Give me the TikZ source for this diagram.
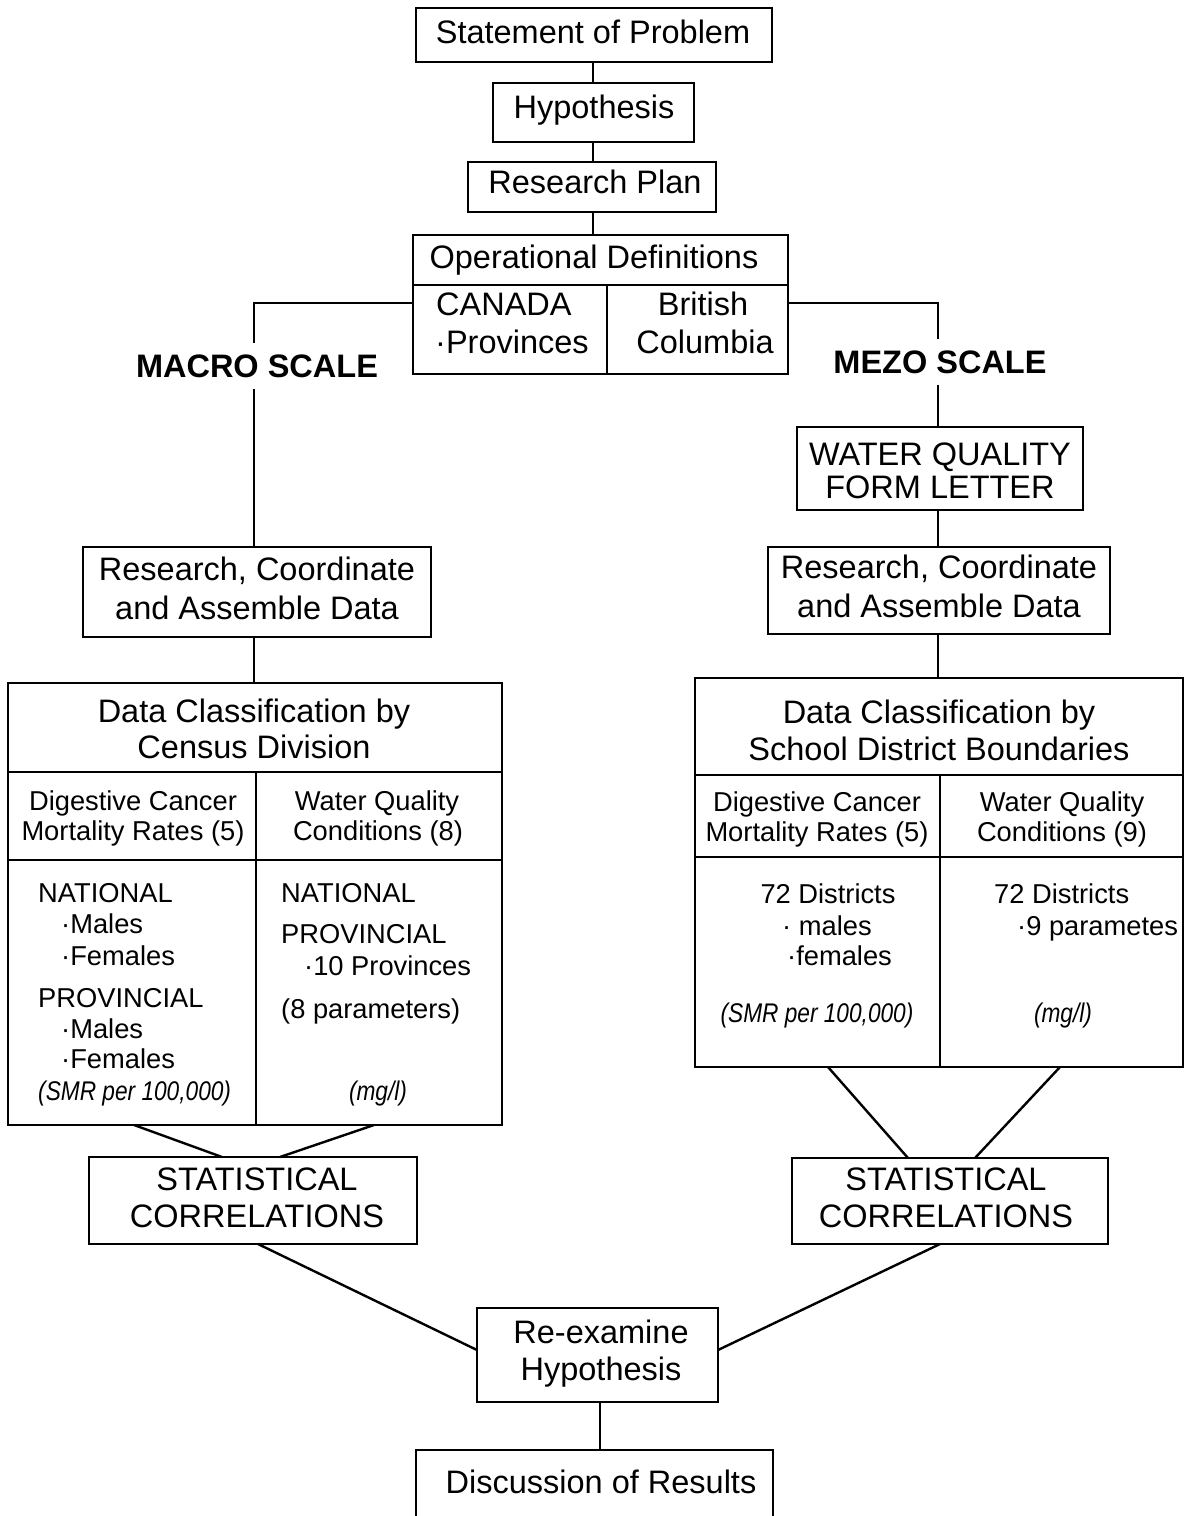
\documentclass[tikz,border=0pt]{standalone}
\usepackage{fontspec}
\setmainfont{Liberation Sans}
\usepackage{graphicx}
\begin{document}
\begin{tikzpicture}[x=1pt,y=-1pt,
  box/.style={draw, line width=2.8pt, inner sep=0pt, outer sep=0pt, rectangle},
  divider/.style={line width=2.2pt},
  conn/.style={line width=2.4pt},
  txt/.style={font=\fontsize{32.5}{38}\selectfont, inner sep=0pt, anchor=base},
  celltxt/.style={font=\fontsize{27.3}{32}\selectfont, inner sep=0pt, anchor=base},
  celltxtw/.style={celltxt, anchor=base west},
  scalelbl/.style={font=\fontsize{32.5}{38}\selectfont\bfseries, inner sep=0pt, inner ysep=11pt, anchor=base},
  note/.style={font=\fontsize{27}{32}\selectfont, inner sep=0pt, anchor=base}
]
\useasboundingbox (0,0) rectangle (1188,1516);
\clip (0,0) rectangle (1188,1516);
\fill[white] (0,0) rectangle (1188,1516);

% ---------- boxes ----------
\node[box, minimum width=356pt, minimum height=54pt] (stmt) at (594,35) {};
\node[box, minimum width=201pt, minimum height=59pt] (hyp) at (593.5,112.5) {};
\node[box, minimum width=248pt, minimum height=50pt] (plan) at (592,187) {};
\node[box, minimum width=375pt, minimum height=139pt] (opdef) at (600.5,304.5) {};
\node[box, minimum width=348pt, minimum height=90pt] (resL) at (257,592) {};
\node[box, minimum width=286pt, minimum height=83pt] (wq) at (940,468.5) {};
\node[box, minimum width=342pt, minimum height=87pt] (resR) at (939,590.5) {};
\node[box, minimum width=494pt, minimum height=442pt] (dcL) at (255,904) {};
\node[box, minimum width=488pt, minimum height=389pt] (dcR) at (939,872.5) {};
\node[box, minimum width=328pt, minimum height=87pt] (statL) at (253,1200.5) {};
\node[box, minimum width=316pt, minimum height=86pt] (statR) at (950,1201) {};
\node[box, minimum width=241pt, minimum height=94pt] (reex) at (597.5,1355) {};
\node[box, minimum width=357pt, minimum height=90pt] (disc) at (594.5,1495) {};

% ---------- inner dividers ----------
\coordinate (odY) at (0,285);
\coordinate (odX) at (607,0);
\draw[divider] (opdef.west |- odY) -- (opdef.east |- odY);
\draw[divider] (odX |- odY) -- (odX |- opdef.south);

\coordinate (dlY1) at (0,772);
\coordinate (dlY2) at (0,860);
\coordinate (dlX) at (256,0);
\draw[divider] (dcL.west |- dlY1) -- (dcL.east |- dlY1);
\draw[divider] (dcL.west |- dlY2) -- (dcL.east |- dlY2);
\draw[divider] (dlX |- dlY1) -- (dlX |- dcL.south);

\coordinate (drY1) at (0,775);
\coordinate (drY2) at (0,857);
\coordinate (drX) at (940,0);
\draw[divider] (dcR.west |- drY1) -- (dcR.east |- drY1);
\draw[divider] (dcR.west |- drY2) -- (dcR.east |- drY2);
\draw[divider] (drX |- drY1) -- (drX |- dcR.south);

% ---------- texts ----------
\node[txt] (tstmt) at (593,43) {Statement of Problem};
\node[txt] (thyp) at (594,118) {Hypothesis};
\node[txt] (tplan) at (595,193) {Research Plan};
\node[txt] (topdef) at (594,268) {Operational Definitions};
\node[txt, anchor=base west] (tcan1) at (436,315) {CANADA};
\node[txt, anchor=base west] (tcan2) at (435,353) {·Provinces};
\node[txt] (tbc1) at (703,315) {British};
\node[txt] (tbc2) at (705,353) {Columbia};

\node[scalelbl] (macro) at (257,377) {MACRO SCALE};
\node[scalelbl] (mezo) at (940,373) {MEZO SCALE};

\node[txt] (twq1) at (940,465) {WATER QUALITY};
\node[txt] (twq2) at (940,498) {FORM LETTER};

\node[txt] (trl1) at (257,580) {Research, Coordinate};
\node[txt] (trl2) at (257,619) {and Assemble Data};
\node[txt] (trr1) at (939,578) {Research, Coordinate};
\node[txt] (trr2) at (939,617) {and Assemble Data};

\node[txt] (tdl1) at (254,722) {Data Classification by};
\node[txt] (tdl2) at (254,758) {Census Division};
\node[txt] (tdr1) at (939,723) {Data Classification by};
\node[txt] (tdr2) at (939,760) {School District Boundaries};

\node[celltxt] (hl1) at (133,810) {Digestive Cancer};
\node[celltxt] (hl2) at (133,840) {Mortality Rates (5)};
\node[celltxt] (hl3) at (377,810) {Water Quality};
\node[celltxt] (hl4) at (378,840) {Conditions (8)};
\node[celltxt] (hr1) at (817,811) {Digestive Cancer};
\node[celltxt] (hr2) at (817,841) {Mortality Rates (5)};
\node[celltxt] (hr3) at (1062,811) {Water Quality};
\node[celltxt] (hr4) at (1062,841) {Conditions (9)};

\node[celltxtw] (bl1) at (38,902) {NATIONAL};
\node[celltxtw] (bl2) at (61,933) {·Males};
\node[celltxtw] (bl3) at (61,965) {·Females};
\node[celltxtw] (bl4) at (38,1007) {PROVINCIAL};
\node[celltxtw] (bl5) at (61,1038) {·Males};
\node[celltxtw] (bl6) at (61,1068) {·Females};
\node[note, anchor=base west] (bl7) at (38,1100) {\scalebox{0.84}[1]{\itshape (SMR per 100,000)}};

\node[celltxtw] (bm1) at (281,902) {NATIONAL};
\node[celltxtw] (bm2) at (281,943) {PROVINCIAL};
\node[celltxtw] (bm3) at (304,975) {·10 Provinces};
\node[celltxtw] (bm4) at (281,1018) {(8 parameters)};
\node[note] (bm5) at (378,1100) {\scalebox{0.84}[1]{\itshape (mg/l)}};

\node[celltxt] (br1) at (828,903) {72 Districts};
\node[celltxtw] (br2) at (782,935) {· males};
\node[celltxtw] (br3) at (787,965) {·females};
\node[note] (br4) at (817,1022) {\scalebox{0.84}[1]{\itshape (SMR per 100,000)}};

\node[celltxtw] (bs1) at (994,903) {72 Districts};
\node[celltxtw] (bs2) at (1017,935) {·9 parametes};
\node[note] (bs3) at (1063,1022) {\scalebox{0.84}[1]{\itshape (mg/l)}};

\node[txt] (tsl1) at (257,1190) {STATISTICAL};
\node[txt] (tsl2) at (257,1227) {CORRELATIONS};
\node[txt] (tsr1) at (946,1190) {STATISTICAL};
\node[txt] (tsr2) at (946,1227) {CORRELATIONS};
\node[txt] (tre1) at (601,1343) {Re-examine};
\node[txt] (tre2) at (601,1380) {Hypothesis};
\node[txt] (tdisc) at (601,1493) {Discussion of Results};

% ---------- connectors ----------
\coordinate (cx) at (593,0);
\draw[conn] (stmt.south -| cx) -- (hyp.north -| cx);
\draw[conn] (hyp.south -| cx) -- (plan.north -| cx);
\draw[conn] (plan.south -| cx) -- (opdef.north -| cx);

\coordinate (brY) at (0,303);
\coordinate (xL) at (254,0);
\coordinate (xR) at (938,0);
\draw[conn] (opdef.west |- brY) -- (xL |- brY) -- (xL |- macro.north);
\draw[conn] (xL |- macro.south) -- (xL |- resL.north);
\draw[conn] (xL |- resL.south) -- (xL |- dcL.north);
\draw[conn] (opdef.east |- brY) -- (xR |- brY) -- (xR |- mezo.north);
\draw[conn] (xR |- mezo.south) -- (xR |- wq.north);
\draw[conn] (xR |- wq.south) -- (xR |- resR.north);
\draw[conn] (xR |- resR.south) -- (xR |- dcR.north);

\coordinate (a1) at (134,0);
\coordinate (a2) at (222,0);
\coordinate (a3) at (374,0);
\coordinate (a4) at (280,0);
\draw[conn] (a1 |- dcL.south) -- (a2 |- statL.north);
\draw[conn] (a3 |- dcL.south) -- (a4 |- statL.north);

\coordinate (b1) at (828,0);
\coordinate (b2) at (908,0);
\coordinate (b3) at (1060,0);
\coordinate (b4) at (975,0);
\draw[conn] (b1 |- dcR.south) -- (b2 |- statR.north);
\draw[conn] (b3 |- dcR.south) -- (b4 |- statR.north);

\coordinate (reY) at (0,1350);
\coordinate (c1) at (258,0);
\coordinate (c2) at (940,0);
\draw[conn] (c1 |- statL.south) -- (reex.west |- reY);
\draw[conn] (c2 |- statR.south) -- (reex.east |- reY);

\coordinate (dx) at (600,0);
\draw[conn] (dx |- reex.south) -- (dx |- disc.north);
\end{tikzpicture}
\end{document}
